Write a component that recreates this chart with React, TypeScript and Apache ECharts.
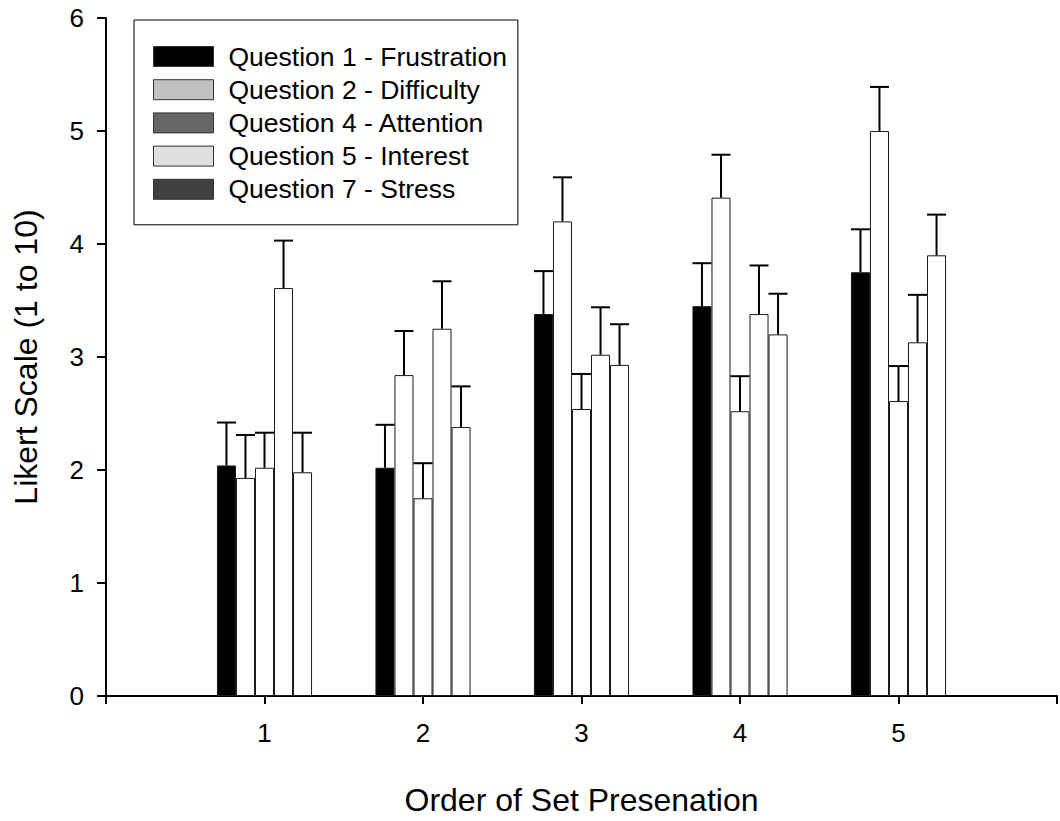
import React, { useEffect, useRef } from "react";
import * as echarts from "echarts";

const xCategories = ["0", "1", "2", "3", "4", "5", "6"];
const groups = ["1", "2", "3", "4", "5"];
const seriesNames = [
  "Question 1 - Frustration",
  "Question 2 - Difficulty",
  "Question 4 - Attention",
  "Question 5 - Interest",
  "Question 7 - Stress",
];
const q1 = [2.04, 2.02, 3.38, 3.45, 3.75];
const q2 = [1.93, 2.84, 4.2, 4.41, 5.0];
const q4 = [2.02, 1.75, 2.54, 2.52, 2.61];
const q5 = [3.61, 3.25, 3.02, 3.38, 3.13];
const q7 = [1.98, 2.38, 2.93, 3.2, 3.9];
const q1Err = [0.38, 0.38, 0.38, 0.38, 0.38];
const q2Err = [0.38, 0.39, 0.39, 0.38, 0.39];
const q4Err = [0.31, 0.31, 0.31, 0.31, 0.31];
const q5Err = [0.42, 0.42, 0.42, 0.43, 0.42];
const q7Err = [0.35, 0.36, 0.36, 0.36, 0.36];
const yTicks = [0, 1, 2, 3, 4, 5, 6];

const barFills = ["#000000", "#ffffff", "#ffffff", "#ffffff", "#ffffff"];
const legendFills = ["#000000", "#c0c0c0", "#666666", "#e0e0e0", "#404040"];

const FONT = "'Liberation Sans', Arial, Helvetica, sans-serif";
const BAR_FRAC = 0.12;

export default function App() {
  const ref = useRef<HTMLDivElement>(null);
  useEffect(() => {
    if (!ref.current) return;
    const chart = echarts.init(ref.current, null, { renderer: "svg" });
    const values = [q1, q2, q4, q5, q7];
    const errs = [q1Err, q2Err, q4Err, q5Err, q7Err];

    const barSeries = values.map((vals, i) => ({
      type: "bar",
      name: seriesNames[i],
      barWidth: BAR_FRAC * 100 + "%",
      barGap: "0%",
      itemStyle: { color: barFills[i], borderColor: "#1a1a1a", borderWidth: 1 },
      data: vals.map((v, j) => [xCategories.indexOf(groups[j]), v]),
      z: 2,
    }));

    const errSeries = values.map((vals, i) => ({
      type: "custom",
      name: "err" + i,
      z: 3,
      encode: { x: 0, y: [1, 2] },
      data: vals.map((v, j) => [xCategories.indexOf(groups[j]), v, v + errs[i][j]]),
      renderItem: (params: any, api: any) => {
        const idx = api.value(0);
        const v = api.value(1);
        const u = api.value(2);
        const band = api.size([1, 0])[0];
        const w = band * BAR_FRAC;
        const base = api.coord([idx, v]);
        const top = api.coord([idx, u]);
        const cx = base[0] + (i - 2) * w;
        const st = { stroke: "#000", lineWidth: 2 };
        return {
          type: "group",
          children: [
            { type: "line", shape: { x1: cx, y1: base[1], x2: cx, y2: top[1] }, style: st },
            { type: "line", shape: { x1: cx - w / 2, y1: top[1], x2: cx + w / 2, y2: top[1] }, style: st },
          ],
        };
      },
    }));

    chart.setOption({
      animation: false,
      textStyle: { fontFamily: FONT },
      grid: { left: 106, top: 18, width: 960, height: 679, containLabel: false },
      legend: {
        orient: "vertical",
        left: 134,
        top: 20,
        itemWidth: 60,
        itemHeight: 20,
        itemGap: 6.2,
        padding: [23, 11, 22, 19],
        borderColor: "#000",
        borderWidth: 1,
        backgroundColor: "#fff",
        selectedMode: false,
        icon: "rect",
        textStyle: { fontSize: 26.5, lineHeight: 26.5, color: "#000", fontFamily: FONT, padding: [0, 0, 0, 10] },
        data: seriesNames.map((n, i) => ({
          name: n,
          itemStyle: { color: legendFills[i], borderColor: "#333", borderWidth: 1 },
        })),
      },
      xAxis: {
        type: "category",
        data: xCategories,
        boundaryGap: false,
        name: "Order of Set Presenation",
        nameLocation: "middle",
        nameGap: 88,
        nameTextStyle: { fontSize: 32, color: "#000", fontFamily: FONT },
        axisLine: { lineStyle: { color: "#000", width: 2 } },
        axisTick: { show: true, length: 8, lineStyle: { color: "#000", width: 2 } },
        axisLabel: {
          fontSize: 26,
          color: "#000",
          margin: 24,
          fontFamily: FONT,
          formatter: (v: string) => (groups.indexOf(v) >= 0 ? v : ""),
        },
        splitLine: { show: false },
      },
      yAxis: {
        type: "value",
        min: yTicks[0],
        max: yTicks[yTicks.length - 1],
        interval: 1,
        name: "Likert Scale (1 to 10)",
        nameLocation: "middle",
        nameGap: 64,
        nameTextStyle: { fontSize: 32, color: "#000", fontFamily: FONT },
        axisLine: { show: true, lineStyle: { color: "#000", width: 2 } },
        axisTick: { show: true, length: 9, lineStyle: { color: "#000", width: 2 } },
        axisLabel: { fontSize: 26, color: "#000", margin: 22, fontFamily: FONT },
        splitLine: { show: false },
      },
      series: [...barSeries, ...errSeries],
    });
    return () => chart.dispose();
  }, []);
  return (
    <div
      ref={ref}
      style={{ position: "absolute", left: 0, top: 0, width: 1060, height: 821, background: "#fff" }}
    />
  );
}
